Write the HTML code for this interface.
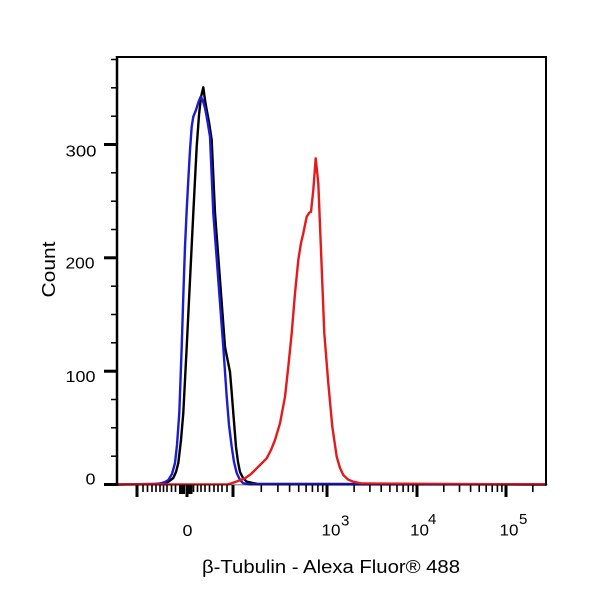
<!DOCTYPE html>
<html>
<head>
<meta charset="utf-8">
<style>
  html, body { margin:0; padding:0; background:#ffffff; }
  svg { display:block; }
  text { font-family: "Liberation Sans", "DejaVu Sans", sans-serif; fill:#000; }
</style>
</head>
<body>
<svg width="600" height="600" viewBox="0 0 600 600" xmlns="http://www.w3.org/2000/svg">
  <rect x="0" y="0" width="600" height="600" fill="#ffffff"/>
  <g fill="none" stroke-width="2.4" stroke-linejoin="round" stroke-linecap="round">
    <polyline stroke="#000000" points="117,484.5 160,484 163,483.3 168,482 173.3,478 176,472 178.3,463 181,440 183.3,413 186.7,347 190,280 193.3,213 196.7,146.7 199,115 201,97 203.3,87.3 205,100 206.7,110 209,122 211.7,140 215,213 220,280 225,347 228,362 230,372 231.5,390 233.3,413 236,447 238,462 240,472 243,478 246.7,481.7 256.7,483.8 546,484.5"/>
    <polyline stroke="#1c1cd2" points="117,484.5 155,484 160,483.5 165,482 168.3,480 172,474 175,463 177,445 179.3,413 181.7,347 183.5,290 185,246.7 186.7,210 188.3,180 190,150 191.7,126.7 193.3,116.7 196,110 198.5,102 200.7,96.7 203,101 205,108 206.7,116.7 210,136.7 213.3,213 218.3,280 223.3,347 226.7,396.7 229,425 231.7,446.7 234,462 236.7,473 240,480 243.3,483.3 250,484.3 546,484.5"/>
    <polyline stroke="#e41a1c" points="117,484.5 228,484.3 231.7,483.3 238,481 245,478.3 251,474 256.7,468.3 262,463 266.7,458.3 271,450 275,440 280,423.3 285,396.7 288.3,366.7 291.7,333.3 295,293.3 298.3,260 301,243 303.3,233.3 306.7,216.7 309,213 311,211.7 313.3,190 315.7,158.3 318.3,183.3 321,250 324.3,333.3 328.3,383.3 332.3,426.7 336.7,456.7 340,468 343.3,475 348,479.5 353.3,481.7 361.7,483.5 546,484.5"/>
  </g>
  <line x1="117" y1="57" x2="546" y2="57" stroke="#000" stroke-width="2"/>
  <line x1="546" y1="56" x2="546" y2="485.5" stroke="#000" stroke-width="2"/>
  <line x1="117" y1="56" x2="117" y2="486" stroke="#000" stroke-width="2.5"/>
  <line x1="117" y1="484.8" x2="546" y2="484.8" stroke="#000" stroke-width="1.2" opacity="0.5"/>
  <g stroke="#000">
    <g stroke-width="3">
      <line x1="104" y1="484.5" x2="117" y2="484.5"/>
      <line x1="104" y1="371.2" x2="117" y2="371.2"/>
      <line x1="104" y1="257.8" x2="117" y2="257.8"/>
      <line x1="104" y1="144.5" x2="117" y2="144.5"/>
    </g>
    <g stroke-width="1.5">
      <line x1="111" y1="456.2" x2="117" y2="456.2"/>
      <line x1="111" y1="427.8" x2="117" y2="427.8"/>
      <line x1="111" y1="399.5" x2="117" y2="399.5"/>
      <line x1="111" y1="342.8" x2="117" y2="342.8"/>
      <line x1="111" y1="314.5" x2="117" y2="314.5"/>
      <line x1="111" y1="286.2" x2="117" y2="286.2"/>
      <line x1="111" y1="229.5" x2="117" y2="229.5"/>
      <line x1="111" y1="201.2" x2="117" y2="201.2"/>
      <line x1="111" y1="172.8" x2="117" y2="172.8"/>
      <line x1="111" y1="116.2" x2="117" y2="116.2"/>
      <line x1="111" y1="87.8" x2="117" y2="87.8"/>
      <line x1="111" y1="59.5" x2="117" y2="59.5"/>
    </g>
  </g>
  <g stroke="#000">
    <g stroke-width="3">
      <line x1="137" y1="485" x2="137" y2="497"/>
      <line x1="187" y1="485" x2="187" y2="497"/>
      <line x1="233" y1="485" x2="233" y2="497"/>
      <line x1="327" y1="485" x2="327" y2="497"/>
      <line x1="417" y1="485" x2="417" y2="497"/>
      <line x1="506" y1="485" x2="506" y2="497"/>
    </g>
    <g stroke-width="1.6">
      <line x1="143" y1="485" x2="143" y2="492"/>
      <line x1="147.5" y1="485" x2="147.5" y2="492"/>
      <line x1="152" y1="485" x2="152" y2="492"/>
      <line x1="156" y1="485" x2="156" y2="492"/>
      <line x1="160" y1="485" x2="160" y2="492"/>
      <line x1="163.5" y1="485" x2="163.5" y2="492"/>
      <line x1="167" y1="485" x2="167" y2="492"/>
      <line x1="171.5" y1="485" x2="171.5" y2="492"/>
      <line x1="175.5" y1="485" x2="175.5" y2="492"/>
      <line x1="193.5" y1="485" x2="193.5" y2="492"/>
      <line x1="197.5" y1="485" x2="197.5" y2="492"/>
      <line x1="201" y1="485" x2="201" y2="492"/>
      <line x1="205" y1="485" x2="205" y2="492"/>
      <line x1="209.5" y1="485" x2="209.5" y2="492"/>
      <line x1="214" y1="485" x2="214" y2="492"/>
      <line x1="218" y1="485" x2="218" y2="492"/>
      <line x1="222" y1="485" x2="222" y2="492"/>
      <line x1="227" y1="485" x2="227" y2="492"/>
      <line x1="261.3" y1="485" x2="261.3" y2="492"/>
      <line x1="277.9" y1="485" x2="277.9" y2="492"/>
      <line x1="289.6" y1="485" x2="289.6" y2="492"/>
      <line x1="298.7" y1="485" x2="298.7" y2="492"/>
      <line x1="306.1" y1="485" x2="306.1" y2="492"/>
      <line x1="312.4" y1="485" x2="312.4" y2="492"/>
      <line x1="317.9" y1="485" x2="317.9" y2="492"/>
      <line x1="322.7" y1="485" x2="322.7" y2="492"/>
      <line x1="354.1" y1="485" x2="354.1" y2="492"/>
      <line x1="369.9" y1="485" x2="369.9" y2="492"/>
      <line x1="381.2" y1="485" x2="381.2" y2="492"/>
      <line x1="389.9" y1="485" x2="389.9" y2="492"/>
      <line x1="397" y1="485" x2="397" y2="492"/>
      <line x1="403.1" y1="485" x2="403.1" y2="492"/>
      <line x1="408.3" y1="485" x2="408.3" y2="492"/>
      <line x1="412.9" y1="485" x2="412.9" y2="492"/>
      <line x1="443.8" y1="485" x2="443.8" y2="492"/>
      <line x1="459.5" y1="485" x2="459.5" y2="492"/>
      <line x1="470.6" y1="485" x2="470.6" y2="492"/>
      <line x1="479.2" y1="485" x2="479.2" y2="492"/>
      <line x1="486.2" y1="485" x2="486.2" y2="492"/>
      <line x1="492.2" y1="485" x2="492.2" y2="492"/>
      <line x1="497.4" y1="485" x2="497.4" y2="492"/>
      <line x1="501.9" y1="485" x2="501.9" y2="492"/>
      <line x1="532.8" y1="485" x2="532.8" y2="492"/>
    </g>
    <g stroke-width="2">
      <line x1="180" y1="485" x2="180" y2="494"/>
      <line x1="182" y1="485" x2="182" y2="494"/>
      <line x1="184" y1="485" x2="184" y2="494"/>
      <line x1="189.5" y1="485" x2="189.5" y2="494"/>
      <line x1="191.5" y1="485" x2="191.5" y2="494"/>
    </g>
  </g>
  <text x="65.5" y="156.5" font-size="16" textLength="31" lengthAdjust="spacingAndGlyphs">300</text>
  <text x="65.5" y="268.5" font-size="16" textLength="29" lengthAdjust="spacingAndGlyphs">200</text>
  <text x="65.5" y="382" font-size="16" textLength="30" lengthAdjust="spacingAndGlyphs">100</text>
  <text x="85.5" y="484.5" font-size="16" textLength="10" lengthAdjust="spacingAndGlyphs">0</text>
  <text x="182.5" y="536" font-size="16" textLength="10" lengthAdjust="spacingAndGlyphs">0</text>
  <text x="321.5" y="535.5" font-size="16" textLength="19" lengthAdjust="spacingAndGlyphs">10</text>
  <text x="341" y="525.5" font-size="15">3</text>
  <text x="410" y="535.5" font-size="16" textLength="19" lengthAdjust="spacingAndGlyphs">10</text>
  <text x="428" y="524" font-size="15">4</text>
  <text x="499.5" y="535.5" font-size="16" textLength="19" lengthAdjust="spacingAndGlyphs">10</text>
  <text x="519" y="524" font-size="15">5</text>
  <text x="202" y="573" font-size="18" textLength="258" lengthAdjust="spacingAndGlyphs">β-Tubulin - Alexa Fluor® 488</text>
  <text transform="translate(55,269.5) rotate(-90)" text-anchor="middle" font-size="18" textLength="56" lengthAdjust="spacingAndGlyphs">Count</text>
</svg>
</body>
</html>
